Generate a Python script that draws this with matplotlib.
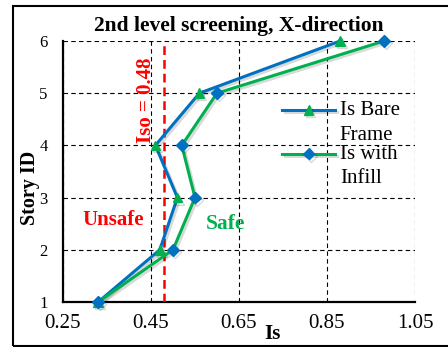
import matplotlib.pyplot as plt
import matplotlib.patheffects as pe
from matplotlib.patches import Rectangle

# story levels and Is values
story = [1, 2, 3, 4, 5, 6]
is_bare = [0.33, 0.47, 0.51, 0.46, 0.56, 0.88]
is_infill = [0.33, 0.50, 0.55, 0.52, 0.60, 0.98]
iso = 0.48
x_ticks = [0.25, 0.45, 0.65, 0.85, 1.05]

blue = '#0070C0'
green = '#00B050'
red = '#FF0000'

plt.rcParams['font.family'] = ['Liberation Serif', 'DejaVu Serif']

fig = plt.figure(figsize=(4.48, 3.47), dpi=100)
ax = fig.add_axes([0.1406, 0.1297, 0.7857, 0.7522])

# frame round the whole picture
fig.patches.append(Rectangle((0.029, 0.004), 1.2, 0.979, transform=fig.transFigure,
                             fill=False, edgecolor='black', linewidth=1.5))

shadow = [pe.SimpleLineShadow(offset=(1.5, -1.5), alpha=0.15), pe.Normal()]

ax.plot(is_bare, story, color=blue, linewidth=2.2, marker='^', markersize=7,
        markerfacecolor=green, markeredgecolor=green, label='Is Bare\nFrame',
        clip_on=False, zorder=4, path_effects=shadow)
ax.plot(is_infill, story, color=green, linewidth=2.2, marker='D', markersize=6,
        markerfacecolor=blue, markeredgecolor=blue, label='Is with\nInfill',
        clip_on=False, zorder=4, path_effects=shadow)

ax.axvline(iso, color=red, linestyle=(0, (3.5, 2)), linewidth=1.8, zorder=3)

ax.set_xlim(0.25, 1.05)
ax.set_ylim(1, 6)
ax.set_xticks(x_ticks)
ax.set_xticklabels(['%.2f' % v for v in x_ticks])
ax.set_yticks(story)
ax.tick_params(axis='both', length=0, pad=11)
ax.tick_params(axis='x', labelsize=15, pad=9)
ax.tick_params(axis='y', labelsize=12)

ax.grid(True, color='black', linestyle=(0, (4, 3)), linewidth=0.8)
ax.set_axisbelow(True)
for s in ['top', 'right']:
    ax.spines[s].set_visible(False)
for s in ['left', 'bottom']:
    ax.spines[s].set_linewidth(1.6)

ax.set_title('2nd level screening, X-direction', fontsize=15.5, fontweight='bold', pad=7.5)
ax.set_xlabel('Is', fontsize=15, fontweight='bold')
ax.xaxis.set_label_coords(0.594, -0.085)
ax.set_ylabel('Story ID', fontsize=14.5, fontweight='bold')
ax.yaxis.set_label_coords(-0.065, 0.437)

ax.text(0.439, 4.87, 'Iso = 0.48', color=red, fontsize=15, fontweight='bold',
        rotation=90, ha='center', va='center')
ax.text(0.364, 2.57, 'Unsafe', color=red, fontsize=15, fontweight='bold',
        ha='center', va='center')
ax.text(0.62, 2.50, 'Safe', color=green, fontsize=15.5, fontweight='bold',
        ha='center', va='center')

leg = ax.legend(loc='upper left', bbox_to_anchor=(0.594, 0.81), frameon=False, fontsize=15,
                handlelength=2.5, handletextpad=0.25, labelspacing=0.0, borderpad=0)
for t in leg.get_texts():
    t.set_linespacing(1.4)
# put each handle level with the first line of its label
for ln in leg.get_lines():
    ln.set_ydata([y + 9 for y in ln.get_ydata()])

fig.savefig('out.png', dpi=100)
